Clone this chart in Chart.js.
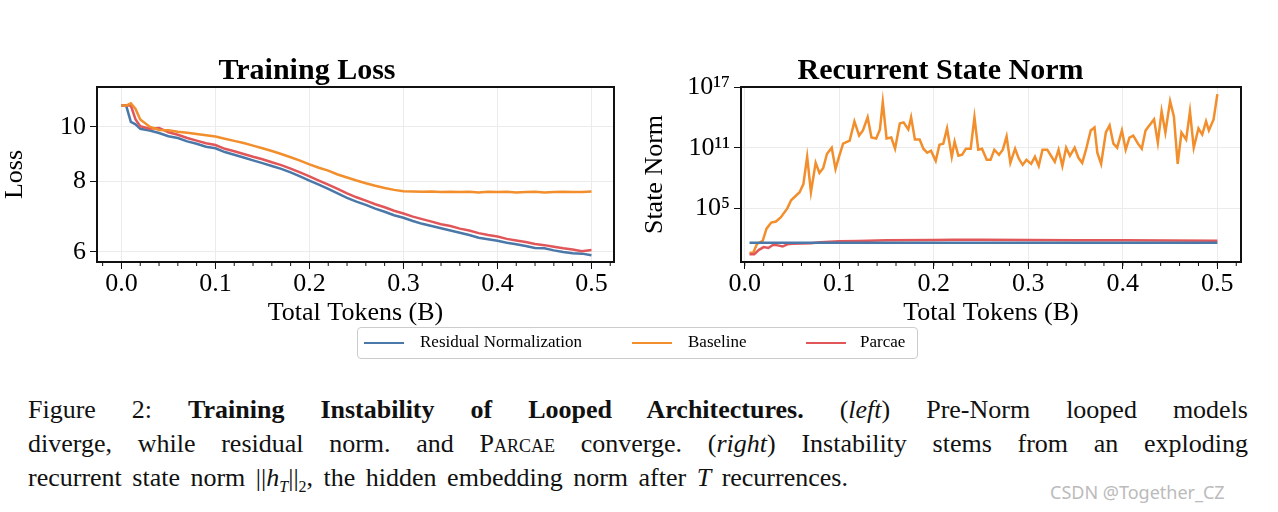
<!DOCTYPE html>
<html>
<head>
<meta charset="utf-8">
<script src="https://cdn.jsdelivr.net/npm/chart.js@4"></script>
<style>
  body { margin: 0; width: 1278px; height: 512px; background: #fff; position: relative; overflow: hidden; font-family: "Liberation Serif", serif; }
  .box { position: absolute; top: 50px; height: 280px; }
  #legend { position: absolute; left: 357px; top: 327px; width: 559px; height: 30px; border: 1px solid #ccc; border-radius: 4px; font-size: 17px; }
  #legend span.l { position: absolute; top: 14px; width: 40px; height: 0; border-top: 2.5px solid; }
  #legend span.t { position: absolute; top: 4px; }
  #caption { position: absolute; left: 28px; top: 393px; width: 1220px; font-size: 26px; color: #111; }
  #caption div { height: 34px; line-height: 34px; text-align: justify; text-align-last: justify; white-space: nowrap; }
  #caption div.last { text-align-last: left; }
  #caption sub { font-size: 16px; line-height: 0; }
  #wm { position: absolute; left: 1050px; top: 480px; font-family: "Noto Sans", sans-serif; font-size: 18px; color: #bbb; }
</style>
</head>
<body>
<div class="box" style="left:0;width:630px"><canvas id="lossChart"></canvas></div>
<div class="box" style="left:640px;width:630px"><canvas id="normChart"></canvas></div>
<div id="legend">
  <span class="l" style="left:6px;border-color:#4a78a8"></span><span class="t" style="left:62px">Residual Normalization</span>
  <span class="l" style="left:274px;border-color:#f28e2b"></span><span class="t" style="left:330px">Baseline</span>
  <span class="l" style="left:448px;border-color:#e15759"></span><span class="t" style="left:502px">Parcae</span>
</div>
<div id="caption">
  <div style="word-spacing:3px">Figure 2: <b>Training Instability of Looped Architectures.</b> (<i>left</i>) Pre-Norm looped models</div>
  <div style="word-spacing:2px">diverge, while residual norm. and <span style="font-variant:small-caps">Parcae</span> converge. (<i>right</i>) Instability stems from an exploding</div>
  <div class="last" style="word-spacing:4px">recurrent state norm ||<i>h<sub>T</sub></i>||<sub>2</sub>, the hidden embedding norm after <i>T</i> recurrences.</div>
</div>
<div id="wm">CSDN @Together_CZ</div>
<script>
const blue = '#4a78a8', orange = '#f28e2b', red = '#e15759';

// left panel: training loss
const lossX = [0, 0.005, 0.01, 0.015, 0.02, 0.03, 0.04, 0.05, 0.06, 0.07, 0.08, 0.09, 0.1, 0.11, 0.12, 0.13, 0.14, 0.15, 0.16, 0.17, 0.18, 0.19, 0.2,
  0.21, 0.22, 0.23, 0.24, 0.25, 0.26, 0.27, 0.28, 0.29, 0.3, 0.31, 0.32, 0.33, 0.34, 0.35, 0.36, 0.37, 0.38, 0.39, 0.4,
  0.41, 0.42, 0.43, 0.44, 0.45, 0.46, 0.47, 0.48, 0.49, 0.5];
const lossResidual = [10.9, 10.9, 10.2, 10.1, 9.92, 9.85, 9.75, 9.62, 9.55, 9.42, 9.33, 9.22, 9.16, 9.02, 8.92, 8.82, 8.72, 8.62, 8.52, 8.42, 8.3, 8.17, 8.03,
  7.9, 7.76, 7.62, 7.48, 7.37, 7.27, 7.16, 7.07, 6.97, 6.9, 6.81, 6.73, 6.67, 6.61, 6.55, 6.49, 6.43, 6.36, 6.32, 6.28,
  6.23, 6.19, 6.15, 6.1, 6.09, 6.04, 6.0, 5.97, 5.96, 5.92];
const lossBaseline = [10.9, 10.9, 11.0, 10.75, 10.3, 10.0, 9.87, 9.86, 9.8, 9.76, 9.71, 9.66, 9.61, 9.52, 9.44, 9.36, 9.26, 9.16, 9.06, 8.95, 8.83, 8.71, 8.58,
  8.46, 8.36, 8.23, 8.13, 8.03, 7.94, 7.86, 7.79, 7.73, 7.69, 7.68, 7.67, 7.68, 7.66, 7.67, 7.66, 7.67, 7.65, 7.67, 7.66,
  7.67, 7.65, 7.66, 7.67, 7.65, 7.66, 7.67, 7.66, 7.66, 7.68];
const lossParcae = [10.9, 10.9, 10.9, 10.3, 10.02, 9.92, 9.95, 9.78, 9.68, 9.55, 9.45, 9.35, 9.28, 9.14, 9.05, 8.95, 8.85, 8.76, 8.65, 8.55, 8.43, 8.3, 8.17,
  8.03, 7.9, 7.76, 7.62, 7.5, 7.4, 7.29, 7.2, 7.1, 7.02, 6.93, 6.86, 6.79, 6.72, 6.67, 6.6, 6.55, 6.48, 6.43, 6.39,
  6.33, 6.29, 6.25, 6.2, 6.17, 6.13, 6.09, 6.06, 6.02, 6.05];
const lossTicks = [6, 8, 10];

// right panel: recurrent state norm (log10 of the norm)
const normX = [0.005, 0.009, 0.013, 0.019, 0.023, 0.028, 0.033, 0.038, 0.045, 0.049, 0.058, 0.062, 0.066, 0.070, 0.075, 0.079, 0.083, 0.087, 0.092, 0.096,
  0.100, 0.104, 0.111, 0.116, 0.121, 0.125, 0.130, 0.134, 0.139, 0.143, 0.146, 0.150, 0.155, 0.159, 0.164, 0.168, 0.173, 0.176, 0.180, 0.185,
  0.189, 0.193, 0.197, 0.202, 0.206, 0.210, 0.214, 0.219, 0.222, 0.226, 0.230, 0.234, 0.239, 0.243, 0.247, 0.251, 0.256, 0.260, 0.264, 0.269,
  0.273, 0.277, 0.281, 0.286, 0.290, 0.294, 0.298, 0.303, 0.307, 0.311, 0.315, 0.320, 0.324, 0.328, 0.332, 0.336, 0.340, 0.344, 0.349, 0.353,
  0.357, 0.361, 0.366, 0.370, 0.373, 0.377, 0.382, 0.386, 0.390, 0.394, 0.399, 0.403, 0.407, 0.411, 0.416, 0.420, 0.424, 0.428, 0.433, 0.437,
  0.441, 0.445, 0.450, 0.454, 0.458, 0.462, 0.467, 0.471, 0.475, 0.480, 0.484, 0.488, 0.491, 0.496, 0.500];
const normBaselineExp = [0.6, 0.65, 1.5, 1.8, 3.0, 3.6, 3.7, 4.1, 5.0, 5.8, 6.6, 7.4, 10.1, 6.6, 9.5, 8.5, 9.0, 10.4, 11.0, 8.9,
  10.2, 11.4, 11.7, 13.6, 12.2, 12.7, 14.0, 12.0, 11.9, 12.8, 15.5, 11.9, 12.0, 10.9, 13.4, 13.5, 12.8, 14.0, 11.8, 11.8,
  10.9, 10.5, 10.7, 9.7, 11.3, 11.4, 12.9, 10.1, 11.6, 10.2, 10.3, 10.9, 10.9, 14.0, 10.8, 10.9, 9.8, 9.8, 10.8, 10.3,
  10.8, 12.1, 9.5, 10.9, 9.9, 9.3, 9.8, 9.4, 10.1, 9.2, 10.8, 10.8, 10.2, 9.6, 10.8, 9.2, 11.0, 10.2, 11.0, 10.0,
  9.5, 10.8, 12.7, 13.0, 10.5, 9.4, 12.5, 13.2, 11.4, 11.0, 12.7, 10.8, 12.0, 12.2, 11.4, 10.9, 12.7, 13.2, 13.8, 11.5,
  14.6, 12.5, 15.6, 14.1, 9.4, 12.5, 11.8, 14.6, 11.0, 12.9, 12.3, 13.6, 12.7, 13.8, 16.3];
const normParcaeX = [0.005, 0.01, 0.015, 0.02, 0.025, 0.03, 0.035, 0.04, 0.045, 0.05, 0.06, 0.07, 0.08, 0.1, 0.12, 0.15, 0.2, 0.22, 0.25, 0.3, 0.35, 0.4, 0.45, 0.5];
const normParcae = [3, 3, 8, 15, 12, 25, 22, 17, 28, 32, 33, 35, 45, 55, 60, 70, 75, 80, 78, 76, 72, 70, 66, 64];
const normResidualX = [0.005, 0.5];
const normResidual = [40, 40];
const normTicks = [1e5, 1e11, 1e17];
const sup = {'0':'⁰','1':'¹','2':'²','3':'³','4':'⁴','5':'⁵','6':'⁶','7':'⁷','8':'⁸','9':'⁹'};

const xTicks = [0, 0.1, 0.2, 0.3, 0.4, 0.5];
const serif = 'Liberation Serif';

const frame = {
  id: 'frame',
  afterDraw(c) {
    const a = c.chartArea, ctx = c.ctx;
    ctx.save();
    ctx.strokeStyle = '#111';
    ctx.lineWidth = 2;
    ctx.strokeRect(a.left, a.top, a.right - a.left, a.bottom - a.top);
    // minor ticks on x axis
    ctx.lineWidth = 1;
    const xs = c.scales.x;
    for (let i = -1; i <= 26; i++) {
      const v = i * 0.02;
      const px = xs.getPixelForValue(v);
      if (px < a.left || px > a.right) continue;
      ctx.beginPath(); ctx.moveTo(px, a.bottom); ctx.lineTo(px, a.bottom + 4); ctx.stroke();
    }
    ctx.restore();
  }
};

function pts(xs, ys) { return xs.map((x, i) => ({x: x, y: ys[i]})); }
function ds(label, data, color) {
  return {label: label, data: data, borderColor: color, borderWidth: 2.5, pointRadius: 0, tension: 0, fill: false};
}

function makeOptions(cfg) {
  return {
    responsive: true, maintainAspectRatio: false, animation: false,
    layout: {padding: {top: 0, right: cfg.padRight, bottom: 0, left: 0}},
    plugins: {
      legend: {display: false},
      title: {display: true, text: cfg.title, color: '#000', font: {family: serif, size: 30, weight: 'bold', lineHeight: 1.0}, padding: {top: 6, bottom: 1}}
    },
    scales: {
      x: {
        type: 'linear', min: cfg.xmin, max: cfg.xmax,
        afterBuildTicks: ax => { ax.ticks = xTicks.map(v => ({value: v})); },
        afterFit: ax => { ax.height = 68; },
        ticks: {color: '#000', font: {family: serif, size: 26}, callback: v => v.toFixed(1), maxRotation: 0, padding: 0},
        grid: {color: '#ebebeb', tickLength: 7, tickColor: '#111'},
        border: {display: false},
        title: {display: true, text: 'Total Tokens (B)', color: '#000', font: {family: serif, size: 26, lineHeight: 1.0}, padding: {top: 0}}
      },
      y: {
        type: 'logarithmic', min: cfg.ymin, max: cfg.ymax,
        afterBuildTicks: ax => { ax.ticks = cfg.yTicks.map(v => ({value: v})); },
        afterFit: ax => { ax.width = cfg.yWidth; },
        ticks: {color: '#000', font: {family: serif, size: 26}, callback: cfg.yLabel, padding: 4},
        grid: {color: '#ebebeb', tickLength: 7, tickColor: '#111'},
        border: {display: false},
        title: {display: true, text: cfg.yTitle, color: '#000', font: {family: serif, size: 26}, padding: 0}
      }
    }
  };
}

new Chart(document.getElementById('lossChart'), {
  type: 'line',
  data: {datasets: [
    ds('Baseline', pts(lossX, lossBaseline), orange),
    ds('Parcae', pts(lossX, lossParcae), red),
    ds('Residual Normalization', pts(lossX, lossResidual), blue)
  ]},
  options: makeOptions({title: 'Training Loss', xmin: -0.026, xmax: 0.524, ymin: 5.76, ymax: 11.76,
    yTicks: lossTicks, yLabel: v => String(v), yTitle: 'Loss', yWidth: 97, padRight: 16}),
  plugins: [frame]
});

new Chart(document.getElementById('normChart'), {
  type: 'line',
  data: {datasets: [
    ds('Residual Normalization', pts(normResidualX, normResidual), blue),
    ds('Parcae', pts(normParcaeX, normParcae), red),
    ds('Baseline', pts(normX, normBaselineExp.map(e => Math.pow(10, e))), orange)
  ]},
  options: makeOptions({title: 'Recurrent State Norm', xmin: -0.004, xmax: 0.525, ymin: 0.5, ymax: 1e17,
    yTicks: normTicks, yLabel: v => '10' + String(Math.round(Math.log10(v))).split('').map(d => sup[d]).join(''),
    yTitle: 'State Norm', yWidth: 101, padRight: 29}),
  plugins: [frame]
});
</script>
</body>
</html>
